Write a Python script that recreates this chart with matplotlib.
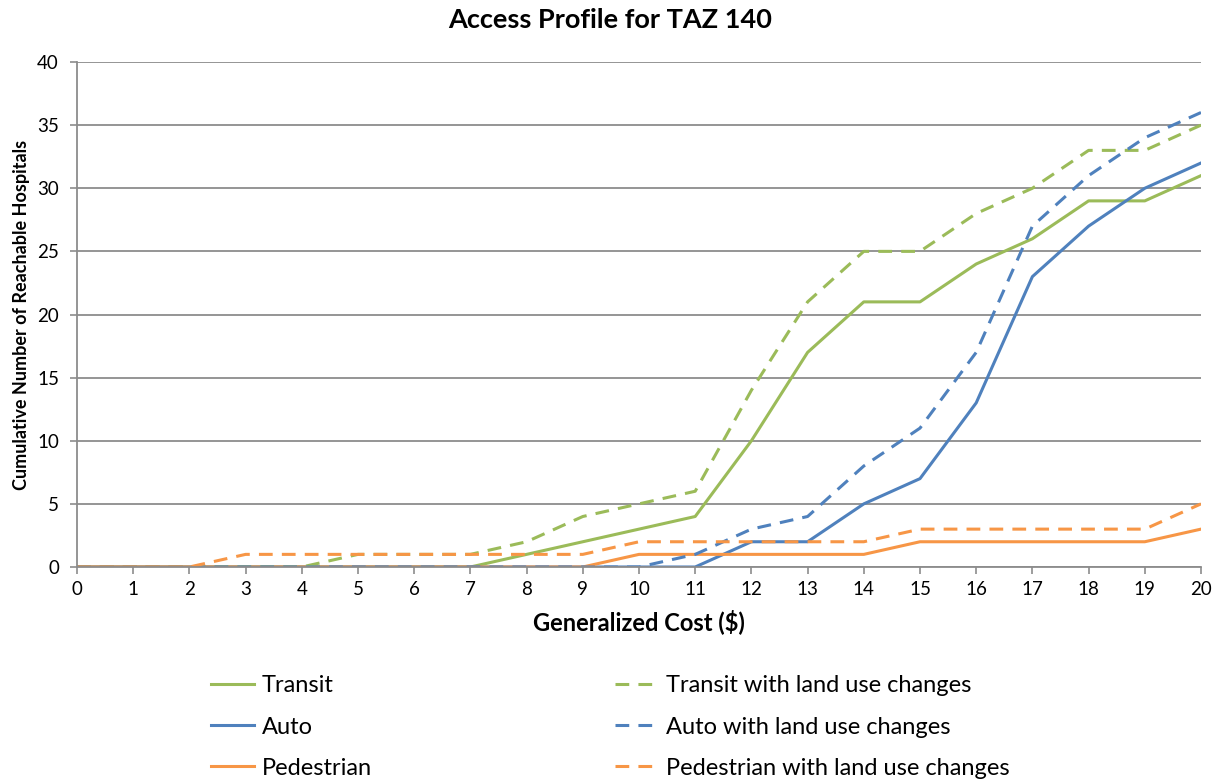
import matplotlib
matplotlib.use("Agg")
import matplotlib.pyplot as plt

cost = list(range(0, 21))
transit =    [0, 0, 0, 0, 0, 0, 0, 0, 1, 2, 3, 4, 10, 17, 21, 21, 24, 26, 29, 29, 31]
transit_lu = [0, 0, 0, 0, 0, 1, 1, 1, 2, 4, 5, 6, 14, 21, 25, 25, 28, 30, 33, 33, 35]
auto =       [0, 0, 0, 0, 0, 0, 0, 0, 0, 0, 0, 0, 2, 2, 5, 7, 13, 23, 27, 30, 32]
auto_lu =    [0, 0, 0, 0, 0, 0, 0, 0, 0, 0, 0, 1, 3, 4, 8, 11, 17, 27, 31, 34, 36]
ped =        [0, 0, 0, 0, 0, 0, 0, 0, 0, 0, 1, 1, 1, 1, 1, 2, 2, 2, 2, 2, 3]
ped_lu =     [0, 0, 0, 1, 1, 1, 1, 1, 1, 1, 2, 2, 2, 2, 2, 3, 3, 3, 3, 3, 5]

GREEN = "#9BBB59"
BLUE = "#4F81BD"
ORANGE = "#F79646"

plt.rcParams['font.family'] = ['Lato', 'DejaVu Sans']

fig = plt.figure(figsize=(12.21, 7.82), dpi=100)
ax = fig.add_axes([77/1221, 1-567/782, (1201-77)/1221, (567-62)/782])

lw = 2.2
dash = (4.5, 3.0)
series = [
    (transit, GREEN, "-", "Transit"),
    (auto, BLUE, "-", "Auto"),
    (ped, ORANGE, "-", "Pedestrian"),
    (transit_lu, GREEN, "--", "Transit with land use changes"),
    (auto_lu, BLUE, "--", "Auto with land use changes"),
    (ped_lu, ORANGE, "--", "Pedestrian with land use changes"),
]
handles = []
for vals, col, ls, lab in series:
    if ls == "--":
        h, = ax.plot(cost, vals, color=col, lw=lw, linestyle=(0, dash), label=lab,
                     dash_capstyle='butt')
    else:
        h, = ax.plot(cost, vals, color=col, lw=lw, label=lab, solid_joinstyle='round')
    handles.append(h)

ax.set_xlim(0, 20)
ax.set_ylim(0, 40)
ax.set_xticks(cost)
ax.set_yticks(range(0, 41, 5))
ax.yaxis.grid(True, color="#8C8C8C", lw=1.3)
ax.set_axisbelow(True)
for s in ["top", "right"]:
    ax.spines[s].set_visible(False)
for s in ["left", "bottom"]:
    ax.spines[s].set_color("#8C8C8C")
    ax.spines[s].set_linewidth(1.3)
ax.tick_params(axis="both", colors="#8C8C8C", labelcolor="black", labelsize=13.5,
               length=5, width=1.2)
ax.tick_params(axis="y", pad=8)
ax.tick_params(axis="x", pad=5)

ax.set_xlabel("Generalized Cost ($)", fontsize=17, fontweight="bold", labelpad=8)
ax.set_ylabel("Cumulative Number of Reachable Hospitals", fontsize=13, fontweight="bold", labelpad=5)
fig.text(0.5, 1-20/782, "Access Profile for TAZ 140", ha="center", va="center",
         fontsize=19.5, fontweight="bold")

leg = fig.legend(handles=handles, loc="center", bbox_to_anchor=(0.5, 1-727/782), ncol=2,
                 frameon=False, fontsize=17, handlelength=1.8, handletextpad=0.35,
                 columnspacing=10.3, labelspacing=0.85)

fig.savefig("out.png", dpi=100)
